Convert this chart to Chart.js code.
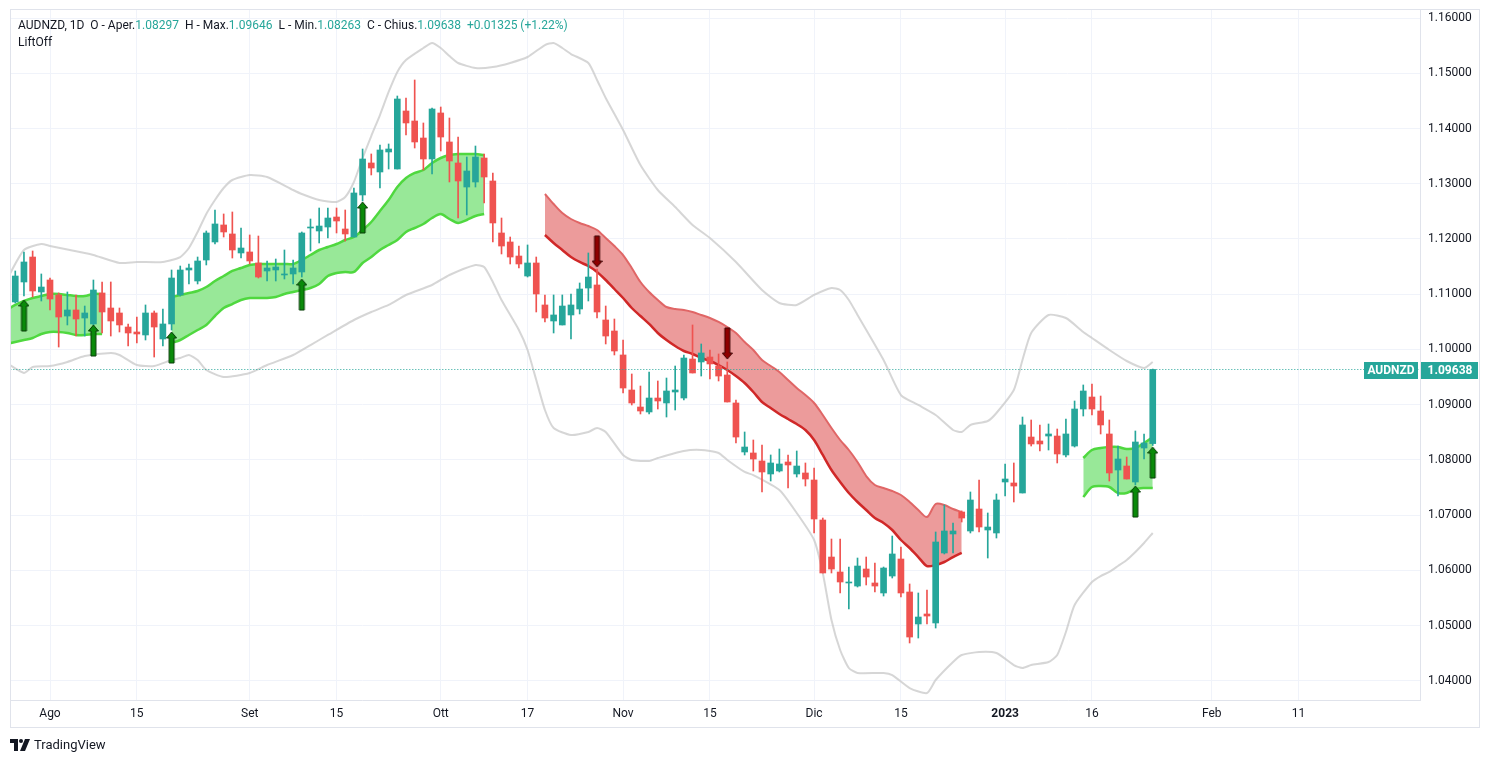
<!DOCTYPE html>
<html>
<head>
<meta charset="utf-8">
<title>AUDNZD 1D</title>
<script src="https://cdn.jsdelivr.net/npm/chart.js@4.4.1/dist/chart.umd.min.js"></script>
<style>
  html, body { margin: 0; padding: 0; background: #ffffff; }
  #wrap { position: relative; width: 1493px; height: 762px; overflow: hidden; }
  #chart { position: absolute; left: 0; top: 0; }
  #legend { position: absolute; left: 18px; top: 17px; font: 12px Roboto, sans-serif; color: #131722; white-space: pre; line-height: 17px; }
  #legend .v { color: #26a69a; }
  #brand { position: absolute; left: 10px; top: 737px; font: 13px Roboto, sans-serif; color: #131722; display: flex; align-items: center; }
  #brand svg { margin-right: 4px; }
</style>
</head>
<body>
<div id="wrap">
  <canvas id="chart" width="1493" height="762"></canvas>
  <div id="legend"><div>AUDNZD, 1D  O - Aper.<span class="v">1.08297</span>  H - Max.<span class="v">1.09646</span>  L - Min.<span class="v">1.08263</span>  C - Chius.<span class="v">1.09638</span>  <span class="v">+0.01325 (+1.22%)</span></div><div>LiftOff</div></div>
  <div id="brand"><svg width="20" height="12" viewBox="0 0 20 12"><path d="M0 0h8v12H4V4H0z" fill="#131722"/><circle cx="11" cy="2" r="2" fill="#131722"/><path d="M15 0h5l-5 12h-5z" fill="#131722"/></svg>TradingView</div>
</div>
<script>
// daily candles, first one is 26 Jul 2022 (index 0 = 1 Aug 2022, trading days only)
const firstIdx = -4;
const opens = [
  1.10860, 1.11222, 1.11674, 1.11041, 1.11258, 1.10987, 1.10606, 1.10715, 1.10570, 1.10462,
  1.11023, 1.10751, 1.10661, 1.10407, 1.10317, 1.10263, 1.10661, 1.10190, 1.10462, 1.10987,
  1.11439, 1.11240, 1.11620, 1.11946, 1.12254, 1.12091, 1.11747, 1.11765, 1.11566, 1.11421,
  1.11439, 1.11349, 1.11367, 1.11403, 1.12199, 1.12145, 1.12217, 1.12398, 1.12181, 1.12036,
  1.12797, 1.13376, 1.13213, 1.13575, 1.13267, 1.14317, 1.14136, 1.13828, 1.13448, 1.14281,
  1.13756, 1.13376, 1.12941, 1.13032, 1.13466, 1.13050, 1.12109, 1.11946, 1.11692, 1.11330,
  1.11566, 1.10806, 1.10516, 1.10444, 1.10625, 1.10733, 1.11113, 1.11168, 1.10534, 1.10335,
  1.09901, 1.09267, 1.08959, 1.08869, 1.09122, 1.09032, 1.09231, 1.09122, 1.09828, 1.09774,
  1.09864, 1.09701, 1.09539, 1.09032, 1.08145, 1.08127, 1.07982, 1.07747, 1.07801, 1.07964,
  1.07747, 1.07765, 1.07638, 1.06914, 1.06244, 1.05973, 1.05774, 1.05719, 1.06027, 1.05774,
  1.05593, 1.05900, 1.06208, 1.05611, 1.05032, 1.05213, 1.05050, 1.06317, 1.06661, 1.07059,
  1.06715, 1.07113, 1.06733, 1.06679, 1.07602, 1.07584, 1.07403, 1.08416, 1.08344, 1.08434,
  1.08434, 1.08091, 1.08253, 1.08923, 1.09140, 1.08887, 1.08471, 1.07819, 1.07891, 1.07602,
  1.08217, 1.08297
];
const highs = [
  1.11421, 1.11765, 1.11783, 1.11367, 1.11294, 1.11023, 1.11041, 1.10987, 1.10787, 1.11258,
  1.11222, 1.11222, 1.10751, 1.10462, 1.10588, 1.10806, 1.10697, 1.10733, 1.11439, 1.11511,
  1.11548, 1.11674, 1.12145, 1.12525, 1.12453, 1.12489, 1.12199, 1.12073, 1.12054, 1.11602,
  1.11638, 1.11801, 1.11620, 1.12127, 1.12362, 1.12561, 1.12561, 1.12561, 1.12525, 1.12923,
  1.13629, 1.13539, 1.13701, 1.13720, 1.14588, 1.14552, 1.14878, 1.14100, 1.14371, 1.14389,
  1.14190, 1.13846, 1.13484, 1.13683, 1.13539, 1.13195, 1.12380, 1.12036, 1.11873, 1.11892,
  1.11674, 1.10987, 1.10987, 1.10987, 1.11005, 1.11204, 1.11747, 1.11457, 1.10787, 1.10552,
  1.10172, 1.09557, 1.09339, 1.09593, 1.09430, 1.09484, 1.09701, 1.09901, 1.10444, 1.10100,
  1.09991, 1.09919, 1.09774, 1.09086, 1.08507, 1.08362, 1.08272, 1.08091, 1.08199, 1.08091,
  1.08163, 1.07946, 1.07855, 1.06950, 1.06570, 1.06570, 1.06063, 1.06226, 1.06244, 1.06136,
  1.06063, 1.06624, 1.06425, 1.05756, 1.05593, 1.05647, 1.06697, 1.07186, 1.06860, 1.07077,
  1.07421, 1.07638, 1.07041, 1.07385, 1.07928, 1.07946, 1.08778, 1.08724, 1.08634, 1.08652,
  1.08561, 1.08742, 1.09068, 1.09358, 1.09376, 1.09158, 1.08724, 1.08253, 1.08054, 1.08525,
  1.08471, 1.09646
];
const lows = [
  1.10842, 1.10968, 1.10950, 1.10878, 1.10715, 1.10045, 1.10444, 1.10244, 1.10244, 1.10444,
  1.10299, 1.10244, 1.10317, 1.10063, 1.10118, 1.10172, 1.09864, 1.10063, 1.10353, 1.10968,
  1.11186, 1.11186, 1.11530, 1.11910, 1.12036, 1.11656, 1.11656, 1.11548, 1.11294, 1.11240,
  1.11240, 1.11276, 1.11186, 1.11312, 1.11783, 1.11928, 1.12018, 1.12109, 1.11964, 1.12036,
  1.12688, 1.13159, 1.12923, 1.13267, 1.13267, 1.13882, 1.13647, 1.13249, 1.13177, 1.13593,
  1.13032, 1.12380, 1.12435, 1.12941, 1.12652, 1.11946, 1.11729, 1.11548, 1.11475, 1.11312,
  1.10679, 1.10498, 1.10299, 1.10444, 1.10190, 1.10643, 1.10878, 1.10570, 1.10100, 1.09901,
  1.09213, 1.08996, 1.08833, 1.08833, 1.08923, 1.08778, 1.08905, 1.09086, 1.09575, 1.09520,
  1.09466, 1.09430, 1.09050, 1.08308, 1.08091, 1.07801, 1.07421, 1.07620, 1.07783, 1.07493,
  1.07692, 1.07529, 1.06679, 1.05955, 1.05955, 1.05593, 1.05303, 1.05701, 1.05738, 1.05611,
  1.05538, 1.05864, 1.05520, 1.04688, 1.04778, 1.05032, 1.04959, 1.06299, 1.06317, 1.06878,
  1.06679, 1.06697, 1.06226, 1.06588, 1.07348, 1.07240, 1.07403, 1.08253, 1.08163, 1.08181,
  1.07946, 1.08054, 1.08235, 1.08796, 1.08815, 1.08471, 1.07620, 1.07348, 1.07656, 1.07548,
  1.08018, 1.08263
];
const closes = [
  1.11330, 1.11584, 1.11059, 1.11131, 1.10914, 1.10588, 1.10715, 1.10552, 1.10661, 1.11077,
  1.10679, 1.10516, 1.10444, 1.10299, 1.10281, 1.10661, 1.10407, 1.10462, 1.11294, 1.11439,
  1.11475, 1.11602, 1.12109, 1.12272, 1.12127, 1.11801, 1.11837, 1.11602, 1.11312, 1.11475,
  1.11493, 1.11367, 1.11475, 1.12109, 1.12217, 1.12235, 1.12380, 1.12326, 1.12091, 1.12833,
  1.13448, 1.13285, 1.13611, 1.13629, 1.14534, 1.14100, 1.13756, 1.13448, 1.14353, 1.13846,
  1.13412, 1.13050, 1.13231, 1.13484, 1.13122, 1.12290, 1.11873, 1.11674, 1.11548, 1.11566,
  1.11005, 1.10570, 1.10625, 1.10787, 1.10806, 1.11095, 1.11312, 1.10679, 1.10244, 1.09973,
  1.09303, 1.09032, 1.08887, 1.09122, 1.09068, 1.09249, 1.09267, 1.09846, 1.09575, 1.09937,
  1.09738, 1.09520, 1.09050, 1.08416, 1.08235, 1.08018, 1.07783, 1.07946, 1.07928, 1.07910,
  1.07891, 1.07656, 1.06932, 1.05955, 1.06027, 1.05792, 1.05792, 1.06081, 1.05882, 1.05719,
  1.06045, 1.06299, 1.05593, 1.04796, 1.05158, 1.05176, 1.06516, 1.06715, 1.06715, 1.06950,
  1.07276, 1.06787, 1.06787, 1.07276, 1.07656, 1.07529, 1.08634, 1.08290, 1.08290, 1.08471,
  1.08109, 1.08471, 1.08923, 1.09249, 1.08923, 1.08634, 1.07765, 1.08018, 1.07656, 1.08326,
  1.08308, 1.09638
];

// Bollinger bands (at selected bars)
const bbUpperIdx = [-5, -3, -1, 0, 4, 5, 8, 10, 13, 15, 16, 17, 18, 19, 20, 21, 23, 25, 28, 29, 31, 33, 34, 35, 36, 37, 38, 39, 40, 41, 43, 44, 45, 46, 47, 49, 51, 53, 55, 57, 58, 59, 60, 62, 63, 64, 66, 68, 70, 72, 74, 76, 79, 82, 84, 86, 88, 90, 91, 92, 93, 96, 98, 100, 102, 104, 105, 106, 108, 109, 111, 112, 113, 115, 117, 119, 120, 122, 124, 126, 127];
const bbUpper = [1.11258, 1.11801, 1.11910, 1.11873, 1.11747, 1.11710, 1.11566, 1.11584, 1.11584, 1.11674, 1.11837, 1.12127, 1.12453, 1.12706, 1.12923, 1.13068, 1.13159, 1.13122, 1.12887, 1.12814, 1.12706, 1.12670, 1.12760, 1.13032, 1.13466, 1.13864, 1.14244, 1.14661, 1.15023, 1.15240, 1.15457, 1.15548, 1.15457, 1.15312, 1.15186, 1.15095, 1.15113, 1.15186, 1.15294, 1.15511, 1.15548, 1.15457, 1.15348, 1.15186, 1.14878, 1.14552, 1.13973, 1.13339, 1.12887, 1.12579, 1.12254, 1.12018, 1.11584, 1.11077, 1.10842, 1.10806, 1.10987, 1.11113, 1.11077, 1.10896, 1.10625, 1.09810, 1.09176, 1.08996, 1.08815, 1.08543, 1.08507, 1.08634, 1.08706, 1.08851, 1.09267, 1.09810, 1.10299, 1.10625, 1.10570, 1.10317, 1.10208, 1.09991, 1.09792, 1.09665, 1.09774];
const bbLowerIdx = [-5, -3, -2, 0, 2, 4, 7, 8, 10, 12, 14, 15, 16, 17, 18, 20, 23, 25, 28, 30, 32, 35, 37, 39, 41, 44, 46, 49, 50, 51, 52, 54, 55, 56, 57, 58, 60, 62, 63, 64, 66, 67, 69, 70, 73, 75, 77, 78, 80, 81, 84, 86, 88, 89, 90, 91, 92, 93, 96, 97, 99, 101, 102, 104, 105, 107, 109, 111, 112, 113, 115, 116, 117, 118, 120, 121, 122, 123, 124, 125, 126, 127];
const bbLower = [1.09756, 1.09575, 1.09683, 1.09701, 1.09774, 1.09882, 1.09937, 1.09901, 1.09719, 1.09701, 1.09810, 1.09846, 1.09901, 1.09810, 1.09629, 1.09502, 1.09575, 1.09719, 1.09901, 1.10081, 1.10263, 1.10534, 1.10679, 1.10806, 1.10987, 1.11168, 1.11349, 1.11530, 1.11493, 1.11222, 1.10896, 1.10353, 1.09991, 1.09448, 1.08905, 1.08579, 1.08452, 1.08507, 1.08579, 1.08507, 1.08091, 1.08000, 1.07982, 1.08036, 1.08163, 1.08181, 1.08127, 1.08000, 1.07783, 1.07728, 1.07457, 1.07041, 1.06552, 1.05955, 1.05104, 1.04561, 1.04235, 1.04145, 1.04145, 1.04108, 1.03873, 1.03782, 1.04018, 1.04344, 1.04470, 1.04525, 1.04506, 1.04289, 1.04235, 1.04289, 1.04344, 1.04470, 1.04887, 1.05375, 1.05792, 1.05900, 1.05973, 1.06081, 1.06190, 1.06335, 1.06498, 1.06679];

// LiftOff bands: three bullish stretches and one bearish stretch
const liftUp1Start = -5;
const liftUp1Top = [1.10715, 1.10806, 1.10878, 1.10932, 1.10968, 1.11005, 1.11005, 1.10987, 1.10968, 1.10968, 1.11005, 1.11005];
const liftUp1Bot = [1.10100, 1.10136, 1.10172, 1.10208, 1.10281, 1.10317, 1.10317, 1.10299, 1.10263, 1.10263, 1.10281, 1.10281];
const liftUp2Start = 14;
const liftUp2Top = [1.10950, 1.10987, 1.11023, 1.11059, 1.11131, 1.11240, 1.11330, 1.11421, 1.11475, 1.11530, 1.11548, 1.11548, 1.11548, 1.11548, 1.11548, 1.11620, 1.11710, 1.11801, 1.11855, 1.11910, 1.11982, 1.12036, 1.12163, 1.12308, 1.12507, 1.12706, 1.12941, 1.13104, 1.13195, 1.13249, 1.13376, 1.13466, 1.13520, 1.13539, 1.13539, 1.13539, 1.13520];
const liftUp2Bot = [1.10118, 1.10172, 1.10263, 1.10353, 1.10444, 1.10606, 1.10751, 1.10823, 1.10896, 1.10932, 1.10932, 1.10932, 1.10950, 1.11005, 1.11041, 1.11077, 1.11113, 1.11186, 1.11330, 1.11385, 1.11403, 1.11403, 1.11566, 1.11674, 1.11801, 1.11892, 1.11982, 1.12127, 1.12199, 1.12272, 1.12380, 1.12453, 1.12362, 1.12290, 1.12344, 1.12416, 1.12453];
const liftUp3Start = 119;
const liftUp3Top = [1.08036, 1.08181, 1.08217, 1.08235, 1.08235, 1.08199, 1.08217, 1.08308, 1.08416];
const liftUp3Bot = [1.07330, 1.07511, 1.07529, 1.07511, 1.07403, 1.07403, 1.07475, 1.07493, 1.07493];
const liftDownStart = 57;
const liftDownTop = [1.12814, 1.12633, 1.12470, 1.12362, 1.12290, 1.12235, 1.12163, 1.12018, 1.11873, 1.11710, 1.11475, 1.11222, 1.11041, 1.10896, 1.10769, 1.10733, 1.10715, 1.10679, 1.10625, 1.10570, 1.10498, 1.10407, 1.10299, 1.10136, 1.09991, 1.09810, 1.09701, 1.09593, 1.09448, 1.09303, 1.09176, 1.09032, 1.08815, 1.08579, 1.08362, 1.08181, 1.07964, 1.07710, 1.07548, 1.07493, 1.07439, 1.07366, 1.07240, 1.07095, 1.06968, 1.07203, 1.07186, 1.07113, 1.07059];
const liftDownBot = [1.12073, 1.11928, 1.11801, 1.11674, 1.11584, 1.11511, 1.11403, 1.11258, 1.11095, 1.10932, 1.10751, 1.10606, 1.10462, 1.10299, 1.10172, 1.10063, 1.09973, 1.09919, 1.09846, 1.09792, 1.09719, 1.09629, 1.09520, 1.09394, 1.09231, 1.09050, 1.08941, 1.08833, 1.08742, 1.08651, 1.08543, 1.08362, 1.08091, 1.07819, 1.07602, 1.07403, 1.07240, 1.07095, 1.06950, 1.06860, 1.06733, 1.06552, 1.06407, 1.06244, 1.06081, 1.06099, 1.06154, 1.06244, 1.06317];

// signal arrows (tip price)
const upArrowIdx = [-3, 5, 14, 29, 36, 125, 127];
const upArrowTip = [1.10896, 1.10444, 1.10317, 1.11276, 1.12670, 1.07529, 1.08235];
const downArrowIdx = [63, 78];
const downArrowTip = [1.11493, 1.09828];

// axes
const xTickPos = [0, 10, 23, 33, 45, 55, 66, 76, 88, 98, 110, 120, 133.8, 143.8];
const xTickLabels = ['Ago', '15', 'Set', '15', 'Ott', '17', 'Nov', '15', 'Dic', '15', '2023', '16', 'Feb', '11'];
const yTicks = [1.04, 1.05, 1.06, 1.07, 1.08, 1.09, 1.10, 1.11, 1.12, 1.13, 1.14, 1.15, 1.16];
const xMin = -4.607, xMax = 157.78;
const yMin = 1.036561, yMax = 1.161629;

const UP = '#26a69a';
const DOWN = '#ef5350';

const idx = closes.map((c, i) => firstIdx + i);
const candleColors = closes.map((c, i) => c >= opens[i] ? UP : DOWN);
const lastClose = closes[closes.length - 1];

function pts(xs, ys) {
  return ys.map((v, i) => ({ x: xs[i], y: v }));
}
function seq(start, ys) {
  return ys.map((v, i) => ({ x: start + i, y: v }));
}

function makeArrow(up, fill, stroke) {
  const c = document.createElement('canvas');
  c.width = 11;
  c.height = 64;
  const g = c.getContext('2d');
  g.fillStyle = fill;
  g.strokeStyle = stroke;
  g.lineWidth = 1;
  g.beginPath();
  if (up) {
    g.moveTo(5.5, 32);
    g.lineTo(10.5, 38);
    g.lineTo(8, 38);
    g.lineTo(8, 63);
    g.lineTo(3, 63);
    g.lineTo(3, 38);
    g.lineTo(0.5, 38);
  } else {
    g.moveTo(5.5, 32);
    g.lineTo(10.5, 26);
    g.lineTo(8, 26);
    g.lineTo(8, 1);
    g.lineTo(3, 1);
    g.lineTo(3, 26);
    g.lineTo(0.5, 26);
  }
  g.closePath();
  g.fill();
  g.stroke();
  return c;
}
const upArrowImg = makeArrow(true, '#0a8a0a', '#063a06');
const downArrowImg = makeArrow(false, '#8e0000', '#3a0000');

function bandPair(start, top, bot, lineTop, lineBot, fill, wTop, wBot) {
  return [
    { type: 'line', data: seq(start, top), borderColor: lineTop, borderWidth: wTop, pointRadius: 0, tension: 0.3, fill: false, order: 10 },
    { type: 'line', data: seq(start, bot), borderColor: lineBot, borderWidth: wBot, pointRadius: 0, tension: 0.3, fill: '-1', backgroundColor: fill, order: 10 }
  ];
}

const GREEN_LINE = '#4fd83f';
const GREEN_FILL = '#98e898';

const datasets = [
  ...bandPair(liftUp1Start, liftUp1Top, liftUp1Bot, GREEN_LINE, GREEN_LINE, GREEN_FILL, 2.5, 2.5),
  ...bandPair(liftUp2Start, liftUp2Top, liftUp2Bot, GREEN_LINE, GREEN_LINE, GREEN_FILL, 2.5, 2.5),
  ...bandPair(liftUp3Start, liftUp3Top, liftUp3Bot, GREEN_LINE, GREEN_LINE, GREEN_FILL, 2.5, 2.5),
  ...bandPair(liftDownStart, liftDownTop, liftDownBot, '#e06666', '#d02828', '#ec9b9b', 2, 2.5),
  { type: 'line', data: pts(bbUpperIdx, bbUpper), borderColor: 'rgba(200,200,200,0.75)', borderWidth: 2, pointRadius: 0, tension: 0.2, fill: false, order: 9 },
  { type: 'line', data: pts(bbLowerIdx, bbLower), borderColor: 'rgba(200,200,200,0.75)', borderWidth: 2, pointRadius: 0, tension: 0.2, fill: false, order: 9 },
  {
    type: 'bar', data: idx.map((x, i) => ({ x: x, y: [lows[i], highs[i]] })),
    backgroundColor: candleColors, barThickness: 1, grouped: false, order: 5
  },
  {
    type: 'bar', data: idx.map((x, i) => ({ x: x, y: [opens[i], closes[i]] })),
    backgroundColor: candleColors, barThickness: 6, minBarLength: 1, grouped: false, order: 4
  },
  {
    type: 'line', data: [{ x: xMin - 1, y: lastClose }, { x: xMax + 1, y: lastClose }],
    borderColor: UP, borderWidth: 1, borderDash: [1, 2], pointRadius: 0, fill: false, order: 3
  },
  {
    type: 'scatter', data: pts(upArrowIdx, upArrowTip), pointStyle: upArrowImg, pointRadius: 5, order: 1
  },
  {
    type: 'scatter', data: pts(downArrowIdx, downArrowTip), pointStyle: downArrowImg, pointRadius: 5, order: 1
  }
];

const framePlugin = {
  id: 'frame',
  afterDraw(chart) {
    const ctx = chart.ctx;
    const a = chart.chartArea;
    const ys = chart.scales.y;
    const xs = chart.scales.x;
    ctx.save();
    ctx.strokeStyle = '#e0e3eb';
    ctx.lineWidth = 1;
    ctx.strokeRect(a.left + 0.5, a.top + 0.5, ys.right - a.left - 1, xs.bottom - a.top);
    // last price labels
    const y = Math.round(ys.getPixelForValue(lastClose));
    ctx.fillStyle = UP;
    ctx.fillRect(a.right - 56, y - 8, 54, 17);
    ctx.fillRect(a.right + 1, y - 8, ys.right - a.right - 3, 17);
    ctx.fillStyle = '#ffffff';
    ctx.font = 'bold 12px Roboto, sans-serif';
    ctx.textAlign = 'center';
    ctx.textBaseline = 'middle';
    ctx.fillText('AUDNZD', a.right - 29, y + 1);
    ctx.fillText(lastClose.toFixed(5), (a.right + ys.right) / 2, y + 1);
    ctx.restore();
  }
};

new Chart(document.getElementById('chart'), {
  type: 'bar',
  data: { datasets: datasets },
  plugins: [framePlugin],
  options: {
    responsive: false,
    animation: false,
    events: [],
    devicePixelRatio: 1,
    layout: { autoPadding: false, padding: { left: 10, top: 9, right: 13, bottom: 35 } },
    plugins: {
      legend: { display: false },
      tooltip: { enabled: false },
      filler: { propagate: false }
    },
    scales: {
      x: {
        type: 'linear',
        min: xMin,
        max: xMax,
        offset: false,
        afterFit(scale) {
          scale.height = 27;
          scale.paddingLeft = 0;
          scale.paddingRight = 0;
        },
        afterBuildTicks(scale) { scale.ticks = xTickPos.map(v => ({ value: v })); },
        grid: { color: '#f0f3fa', offset: false, drawTicks: false },
        border: { color: '#e0e3eb' },
        ticks: {
          autoSkip: false,
          maxRotation: 0,
          padding: 7,
          color: '#131722',
          font: ctx => ({ family: 'Roboto, sans-serif', size: 12, weight: (ctx.tick && ctx.tick.value === 110) ? 'bold' : 'normal' }),
          callback: (v, i) => xTickLabels[i]
        }
      },
      y: {
        type: 'linear',
        position: 'right',
        min: yMin,
        max: yMax,
        afterFit(scale) {
          scale.width = 60;
          scale.paddingTop = 0;
          scale.paddingBottom = 0;
        },
        afterBuildTicks(scale) { scale.ticks = yTicks.map(v => ({ value: v })); },
        grid: { color: '#f0f3fa', drawTicks: false },
        border: { color: '#e0e3eb' },
        ticks: {
          padding: 8,
          color: '#131722',
          font: { family: 'Roboto, sans-serif', size: 12 },
          callback: v => v.toFixed(5)
        }
      }
    }
  }
});
</script>
</body>
</html>
